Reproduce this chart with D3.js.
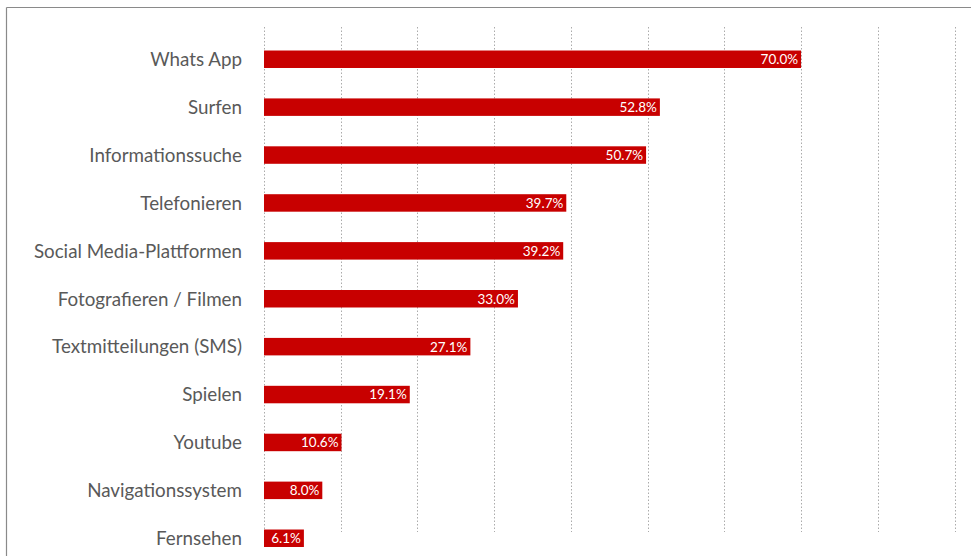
<!DOCTYPE html>
<html>
<head>
<meta charset="utf-8">
<script src="https://cdn.jsdelivr.net/npm/d3@7"></script>
<style>
  html, body { margin: 0; padding: 0; background: #fff; }
  svg { display: block; }
</style>
</head>
<body>
<svg id="chart" width="971" height="556"></svg>
<script>
const categories = ["Whats App", "Surfen", "Informationssuche", "Telefonieren", "Social Media-Plattformen",
  "Fotografieren / Filmen", "Textmitteilungen (SMS)", "Spielen", "Youtube", "Navigationssystem", "Fernsehen"];
// percentages printed on the bars
const labelValues = [70.0, 52.8, 50.7, 39.7, 39.2, 33.0, 27.1, 19.1, 10.6, 8.0, 6.1];
// bar lengths as they appear against the grid in the picture
const barValues = [70.0, 51.6, 49.8, 39.4, 39.0, 33.1, 26.9, 19.0, 10.1, 7.6, 5.2];
const tickValues = [0, 10, 20, 30, 40, 50, 60, 70, 80, 90];

const svg = d3.select("#chart");
const W = 971, H = 556;

// frame lines (top and left)
svg.append("line").attr("x1", 6.5).attr("x2", W).attr("y1", 7.5).attr("y2", 7.5)
  .attr("stroke", "#8a8a8a").attr("stroke-width", 1.2);
svg.append("line").attr("x1", 6.5).attr("x2", 6.5).attr("y1", 7.5).attr("y2", H)
  .attr("stroke", "#8a8a8a").attr("stroke-width", 1.2);

const x = d3.scaleLinear().domain([0, 90]).range([264, 954.5]);
const y = d3.scaleBand().domain(categories).range([35.3, 35.3 + 47.9 * 11]).paddingInner(0.635).paddingOuter(0.3175);

// grid
svg.append("g").selectAll("line").data(tickValues).join("line")
  .attr("x1", d => Math.round(x(d)) + 0.5).attr("x2", d => Math.round(x(d)) + 0.5)
  .attr("y1", 27).attr("y2", 532)
  .attr("stroke", "#ababab").attr("stroke-width", 1)
  .attr("stroke-dasharray", "1.5,2");

// bars
svg.append("g").selectAll("rect").data(barValues).join("rect")
  .attr("x", x(0))
  .attr("y", (d, i) => y(categories[i]))
  .attr("width", d => x(d) - x(0))
  .attr("height", y.bandwidth())
  .attr("fill", "#c80000");

// value labels
svg.append("g").selectAll("text").data(labelValues).join("text")
  .attr("x", (d, i) => x(barValues[i]) - 3)
  .attr("y", (d, i) => y(categories[i]) + y.bandwidth() / 2)
  .attr("dy", "0.36em")
  .attr("text-anchor", "end")
  .attr("fill", "#ffffff")
  .style("font-family", "Lato, 'Open Sans', sans-serif")
  .style("font-size", "13.5px")
  .text(d => d.toFixed(1) + "%");

// category labels
svg.append("g").selectAll("text").data(categories).join("text")
  .attr("x", 242)
  .attr("y", d => y(d) + y.bandwidth() / 2)
  .attr("dy", "0.36em")
  .attr("text-anchor", "end")
  .attr("fill", "#595959")
  .style("font-family", "Lato, 'Open Sans', sans-serif")
  .style("font-size", "18.8px")
  .text(d => d);
</script>
</body>
</html>
